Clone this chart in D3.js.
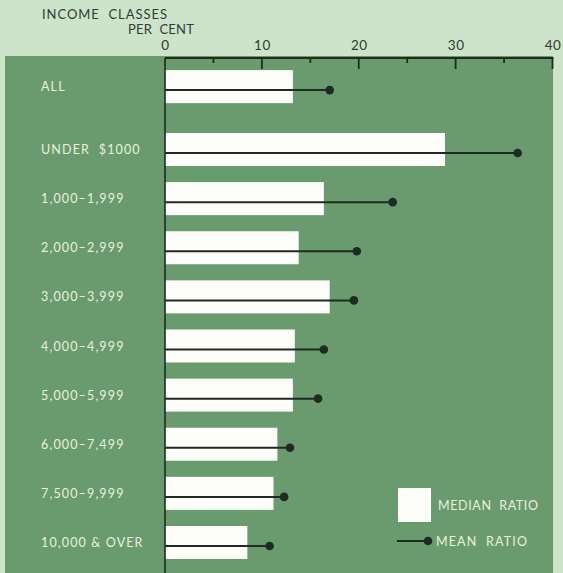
<!DOCTYPE html>
<html><head><meta charset="utf-8">
<script src="https://cdn.jsdelivr.net/npm/d3@7"></script>
<style>
html,body{margin:0;padding:0;background:#cde3ca;}
svg{display:block;}
</style></head>
<body>
<svg id="chart" width="563" height="573"></svg>
<script>
const categories = ["ALL","UNDER  $1000","1,000–1,999","2,000–2,999","3,000–3,999","4,000–4,999","5,000–5,999","6,000–7,499","7,500–9,999","10,000 & OVER"];
const slots = [-1.28, 0, 1, 2, 3, 4, 5, 6, 7, 8];
const medianRatio = [13.2, 28.9, 16.4, 13.8, 17.0, 13.4, 13.2, 11.6, 11.2, 8.5];
const meanRatio   = [17.0, 36.4, 23.5, 19.8, 19.5, 16.4, 15.8, 12.9, 12.3, 10.8];
const tickValues = [0, 10, 20, 30, 40];
const minorTicks = [5, 15, 25, 35];

const svg = d3.select("#chart");
const font = "Lato, 'DejaVu Sans', sans-serif";
const green = "#6a9b6f";
const light = "#e9f0dc";
const dark = "#1f2a22";
const headCol = "#2f3d34";

svg.append("rect").attr("x",0).attr("y",0).attr("width",563).attr("height",573).attr("fill","#cde3ca");
svg.append("rect").attr("x",5).attr("y",56).attr("width",548).attr("height",517).attr("fill",green);

const x = d3.scaleLinear().domain([0,40]).range([165,552.5]);
const y = d3.scaleLinear().domain([0,8]).range([133,526]);
const barH = 33;

const rows = categories.map((c,i)=>({c, s:slots[i], med:medianRatio[i], mean:meanRatio[i]}));
svg.append("g").selectAll("rect").data(rows).join("rect")
  .attr("x", x(0)).attr("y", d=>y(d.s)).attr("width", d=>x(d.med)-x(0)).attr("height", barH)
  .attr("fill","#fdfdfa");

svg.append("g").selectAll("line").data(rows).join("line")
  .attr("x1", x(0)).attr("x2", d=>x(d.mean))
  .attr("y1", d=>y(d.s)+20).attr("y2", d=>y(d.s)+20)
  .attr("stroke", dark).attr("stroke-width", 2);
svg.append("g").selectAll("circle").data(rows).join("circle")
  .attr("cx", d=>x(d.mean)).attr("cy", d=>y(d.s)+20).attr("r", 4.3).attr("fill", dark);

svg.append("g").selectAll("text").data(rows).join("text")
  .attr("x", 41).attr("y", d=>y(d.s)+barH/2+4.5)
  .attr("fill", light).attr("font-family", font).attr("font-size", 12.5)
  .attr("letter-spacing", 1.15)
  .attr("xml:space","preserve").style("white-space","pre")
  .text(d=>d.c);

const axisY = 58;
const ax = d3.axisTop(x).tickValues(tickValues).tickSize(0).tickFormat(d3.format("d"));
const axG = svg.append("g").attr("transform",`translate(0,${axisY})`).call(ax);
axG.select(".domain").remove();
axG.selectAll("text").attr("font-family", font).attr("font-size", 13.5).attr("fill","#2d3a30")
  .attr("letter-spacing", 0.5).attr("dy","-0.35em");
svg.append("line").attr("x1", x(0)).attr("x2", x(40)+1).attr("y1", axisY).attr("y2", axisY)
  .attr("stroke", dark).attr("stroke-width", 2);
svg.append("g").selectAll("line").data(tickValues.slice(1)).join("line")
  .attr("x1", d=>x(d)).attr("x2", d=>x(d)).attr("y1", axisY).attr("y2", axisY+11)
  .attr("stroke", dark).attr("stroke-width", 1.8);
svg.append("g").selectAll("line").data(minorTicks).join("line")
  .attr("x1", d=>x(d)).attr("x2", d=>x(d)).attr("y1", axisY).attr("y2", axisY+5)
  .attr("stroke", dark).attr("stroke-width", 1.8);
svg.append("line").attr("x1", x(0)).attr("x2", x(0)).attr("y1", axisY).attr("y2", 573)
  .attr("stroke", dark).attr("stroke-width", 1.6);

svg.append("text").attr("x", 42).attr("y", 19).attr("font-family", font).attr("font-size", 13)
  .attr("fill", headCol).attr("textLength", 125).attr("lengthAdjust","spacing")
  .attr("xml:space","preserve").style("white-space","pre").text("INCOME  CLASSES");
svg.append("text").attr("x", 128).attr("y", 34).attr("font-family", font).attr("font-size", 13)
  .attr("fill", headCol).attr("textLength", 66).attr("lengthAdjust","spacing")
  .attr("xml:space","preserve").style("white-space","pre").text("PER  CENT");

svg.append("rect").attr("x",398).attr("y",488).attr("width",33).attr("height",34).attr("fill","#fdfdfa");
svg.append("text").attr("x",438).attr("y",509.5).attr("font-family", font).attr("font-size", 12.5)
  .attr("fill", light).attr("textLength", 100).attr("lengthAdjust","spacing")
  .attr("xml:space","preserve").style("white-space","pre").text("MEDIAN  RATIO");
svg.append("line").attr("x1",397).attr("x2",428).attr("y1",541).attr("y2",541).attr("stroke",dark).attr("stroke-width",2);
svg.append("circle").attr("cx",428).attr("cy",541).attr("r",4.3).attr("fill",dark);
svg.append("text").attr("x",436).attr("y",545.5).attr("font-family", font).attr("font-size", 12.5)
  .attr("fill", light).attr("textLength", 91).attr("lengthAdjust","spacing")
  .attr("xml:space","preserve").style("white-space","pre").text("MEAN  RATIO");
</script>
</body></html>
